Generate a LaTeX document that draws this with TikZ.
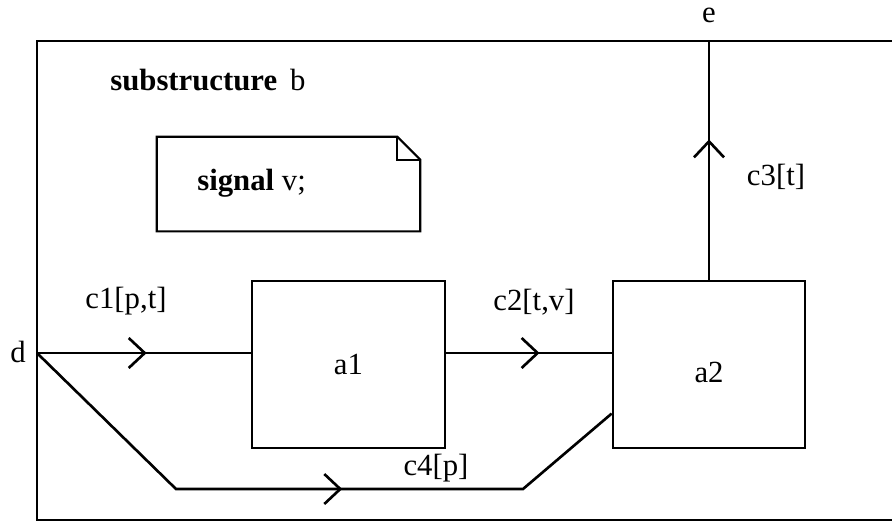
\documentclass[tikz,border=0pt]{standalone}
\usepackage{fontspec}
\setmainfont{Liberation Serif}
\usetikzlibrary{arrows.meta,calc,decorations.markings}

\begin{document}
\begin{tikzpicture}[x=0.02cm,y=-0.02cm,
  every node/.style={font=\fontsize{17.5}{21}\selectfont},
  frameline/.style={line width=1.6pt},
  block/.style={draw,line width=1.25pt,minimum width=3.85cm,minimum height=3.34cm,inner sep=0pt},
  notebox/.style={minimum width=5.26cm,minimum height=1.88cm,inner sep=0pt},
  flow/.style={line width=1.5pt,postaction={decorate},
    decoration={markings,mark=at position #1 with {\arrow[line width=1.5pt]{Straight Barb[length=0.32cm,width=0.6cm]}}}}]
  \path[use as bounding box,clip] (0,0) rectangle (892,522);

  % The substructure frame
  \draw[frameline] (37,41) rectangle (910,520);
  \node[anchor=base west,inner sep=0pt] (title) at (110,90) {\textbf{substructure}\, b};
  \coordinate (d) at (37,353);
  \coordinate (e) at (709,41);
  \node (dlab) at (18,352) {d};
  \node (elab) at (709,15) {e};

  % Note with folded corner
  \node[notebox] (note) at (288.5,184) {};
  \draw[line width=1.25pt] (note.north west) -- ($(note.north east)+(-23,0)$)
    -- ($(note.north east)+(0,23)$) -- (note.south east) -- (note.south west) -- cycle;
  \draw[line width=1.25pt] ($(note.north east)+(-23,0)$) |- ($(note.north east)+(0,23)$);
  \node[anchor=base west,inner sep=0pt] (sig) at (197,190) {\textbf{signal} v;};

  % Blocks
  \node[block] (a1) at (348.5,364.5) {a1};
  \node[block] (a2) at (709,364.5) {\raisebox{-0.15cm}[\height][\depth]{a2}};

  % Channels
  \draw[flow=0.512] (d) -- (d -| a1.west);
  \draw[flow=0.565] (d -| a1.east) -- (d -| a2.west);
  \draw[flow=0.588] (a2.north) -- (e);
  \coordinate (c4a) at (176,489);
  \coordinate (c4b) at (523,489);
  \draw[flow=0.548] (d) -- (c4a) -- (c4b) -- ($(a2.south west)!0.21!(a2.north west)$);

  \node (c1) at (126,301) {c1[p,t]};
  \node (c2) at (534,302) {c2[t,v]};
  \node (c3) at (776,177) {c3[t]};
  \node (c4) at (436,468) {c4[p]};
\end{tikzpicture}
\end{document}
